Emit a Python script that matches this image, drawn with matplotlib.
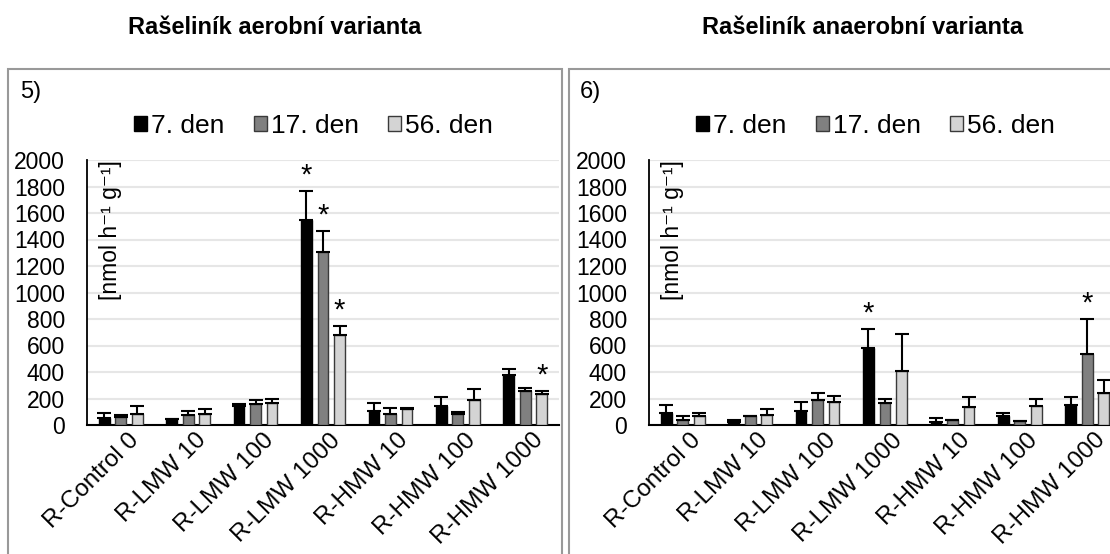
import numpy as np
import matplotlib
matplotlib.use("Agg")
from matplotlib import pyplot as plt
from matplotlib.patches import Rectangle

plt.rcParams['font.family'] = ['Liberation Sans', 'DejaVu Sans']

categories = ['R-Control 0', 'R-LMW 10', 'R-LMW 100', 'R-LMW 1000',
              'R-HMW 10', 'R-HMW 100', 'R-HMW 1000']
series_names = ['7. den', '17. den', '56. den']
yticks = [0, 200, 400, 600, 800, 1000, 1200, 1400, 1600, 1800, 2000]

# aerobic variant (panel 5)
aer_7 = [51, 46, 140, 1547, 102, 140, 377]
aer_17 = [59, 73, 159, 1305, 86, 81, 253]
aer_56 = [86, 86, 167, 677, 124, 189, 237]
aer_7_err = [43, 3, 22, 219, 65, 70, 43]
aer_17_err = [14, 32, 30, 156, 41, 19, 30]
aer_56_err = [54, 38, 27, 70, 2, 81, 22]
aer_star = [[], [], [], [0, 1, 2], [], [], [2]]

# anaerobic variant (panel 6)
ana_7 = [94, 24, 108, 582, 24, 65, 154]
ana_17 = [40, 65, 186, 164, 38, 27, 536]
ana_56 = [67, 73, 173, 407, 137, 140, 243]
ana_7_err = [54, 14, 67, 143, 27, 29, 56]
ana_17_err = [27, 2, 54, 30, 3, 2, 265]
ana_56_err = [25, 46, 48, 280, 71, 54, 97]
ana_star = [[], [], [], [0], [], [], [1]]

colors = ['#000000', '#808080', '#d4d4d4']
edges = ['#000000', '#3a3a3a', '#3a3a3a']

W, H = 1110, 554
fig = plt.figure(figsize=(W / 100, H / 100), dpi=100)


def px_axes(x0, y_top, x1, y_bot):
    return [x0 / W, 1 - y_bot / H, (x1 - x0) / W, (y_bot - y_top) / H]


def panel(ax, vals, errs, stars):
    x = np.arange(len(categories))
    width = 0.16
    offsets = [-0.245, 0, 0.245]
    for i in range(3):
        ax.bar(x + offsets[i], vals[i], width, color=colors[i],
               edgecolor=edges[i], linewidth=1.0, label=series_names[i], zorder=3)
        ax.errorbar(x + offsets[i], vals[i],
                    yerr=[np.zeros(len(x)), errs[i]], fmt='none',
                    ecolor='black', elinewidth=1.5, capsize=5, capthick=1.5, zorder=4)
    for ci, idxs in enumerate(stars):
        for si in idxs:
            ax.annotate('*', (x[ci] + offsets[si], vals[si][ci] + errs[si][ci]),
                        xytext=(0, 1), textcoords='offset points',
                        ha='center', va='bottom', fontsize=21)
    ax.set_xlim(-0.5, len(categories) - 0.5)
    ax.set_ylim(0, 2000)
    ax.set_yticks(yticks)
    ax.yaxis.grid(True, color='#e6e6e6', linewidth=1.5, zorder=0)
    ax.set_axisbelow(True)
    ax.tick_params(axis='y', length=0, pad=16, labelsize=16.5)
    ax.tick_params(axis='x', length=0, pad=3, labelsize=17.5)
    ax.set_xticks(x + 0.1)
    ax.set_xticklabels(categories, rotation=45, ha='right', rotation_mode='anchor')
    for s in ['top', 'right']:
        ax.spines[s].set_visible(False)
    ax.spines['left'].set_linewidth(1.3)
    ax.spines['bottom'].set_linewidth(1.5)
    ax.text(0.05, 1.0, '[nmol h⁻¹ g⁻¹]', transform=ax.transAxes,
            rotation=90, ha='center', va='top', fontsize=16.5)
    ax.legend(loc='center', bbox_to_anchor=(0.48, 1.13), ncol=3, frameon=False,
              fontsize=19, handlelength=0.5, handleheight=0.5, handletextpad=0.15,
              columnspacing=1.1, borderaxespad=0)


ax1 = fig.add_axes(px_axes(87, 160, 559, 425))
panel(ax1, [aer_7, aer_17, aer_56], [aer_7_err, aer_17_err, aer_56_err], aer_star)
ax2 = fig.add_axes(px_axes(649, 160, 1121, 425))
panel(ax2, [ana_7, ana_17, ana_56], [ana_7_err, ana_17_err, ana_56_err], ana_star)

# panel frames
for x0, x1 in [(8, 562), (569, 1130)]:
    fig.patches.append(Rectangle((x0 / W, -0.05), (x1 - x0) / W, 1.05 - 69 / H,
                                 transform=fig.transFigure, fill=False,
                                 edgecolor='#999999', linewidth=1.5))

fig.text(20 / W, 1 - 92 / H, '5)', fontsize=17, va='center', ha='left')
fig.text(580 / W, 1 - 92 / H, '6)', fontsize=17, va='center', ha='left')

fig.text(275 / W, 1 - 27 / H, 'Rašeliník aerobní varianta', fontsize=17,
         fontweight='bold', ha='center', va='center')
fig.text(863 / W, 1 - 27 / H, 'Rašeliník anaerobní varianta', fontsize=17,
         fontweight='bold', ha='center', va='center')

fig.savefig('out.png', dpi=100)
